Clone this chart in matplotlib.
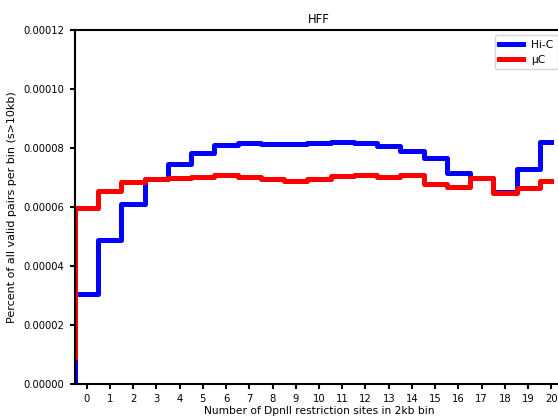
import matplotlib
matplotlib.use("Agg")
import matplotlib.pyplot as plt
from matplotlib.ticker import FormatStrFormatter

# number of DpnII sites per 2kb bin (x=-1 is the left padding point)
sites = list(range(-1, 21))
hic = [0.0, 3.06e-5, 4.88e-5, 6.10e-5, 6.95e-5, 7.46e-5, 7.82e-5, 8.10e-5, 8.16e-5,
       8.14e-5, 8.12e-5, 8.18e-5, 8.21e-5, 8.18e-5, 8.07e-5, 7.91e-5, 7.66e-5,
       7.14e-5, 6.97e-5, 6.50e-5, 7.29e-5, 8.21e-5]
muc = [8.8e-6, 5.97e-5, 6.55e-5, 6.84e-5, 6.96e-5, 6.97e-5, 7.01e-5, 7.07e-5, 7.00e-5,
       6.94e-5, 6.88e-5, 6.95e-5, 7.04e-5, 7.08e-5, 7.02e-5, 7.08e-5, 6.77e-5,
       6.69e-5, 6.97e-5, 6.49e-5, 6.63e-5, 6.88e-5]
xticks = list(range(0, 21))
yticks = [0.0, 0.00002, 0.00004, 0.00006, 0.00008, 0.00010, 0.00012]

plt.rcParams['font.family'] = ['DejaVu Sans']
plt.rcParams['font.size'] = 8

fig = plt.figure(figsize=(5.58, 4.19), dpi=100)
ax = fig.add_axes([75/558, 35/419, 488/558, 354/419])

ax.step(sites, hic, where='mid', color='#0000ff', lw=3.6, label='Hi-C')
ax.step(sites, muc, where='mid', color='#ff0000', lw=3.6, label='μC')

ax.set_xlim(-0.5, 20.5)
ax.set_ylim(0, 0.00012)
ax.set_xticks(xticks)
ax.set_yticks(yticks)
ax.yaxis.set_major_formatter(FormatStrFormatter('%.5f'))
for s in ax.spines.values():
    s.set_linewidth(1.5)
ax.tick_params(width=1.5, length=3.5, labelsize=7.2, pad=4)

ax.set_title('HFF', fontsize=8.3, pad=5)
ax.set_xlabel('Number of DpnII restriction sites in 2kb bin', fontsize=7.7, labelpad=1)
ax.set_ylabel('Percent of all valid pairs per bin (s>10kb)', fontsize=8, labelpad=5)
ax.legend(loc='upper right', fontsize=7.7, handlelength=2.2)

fig.savefig('out.png', dpi=100)
